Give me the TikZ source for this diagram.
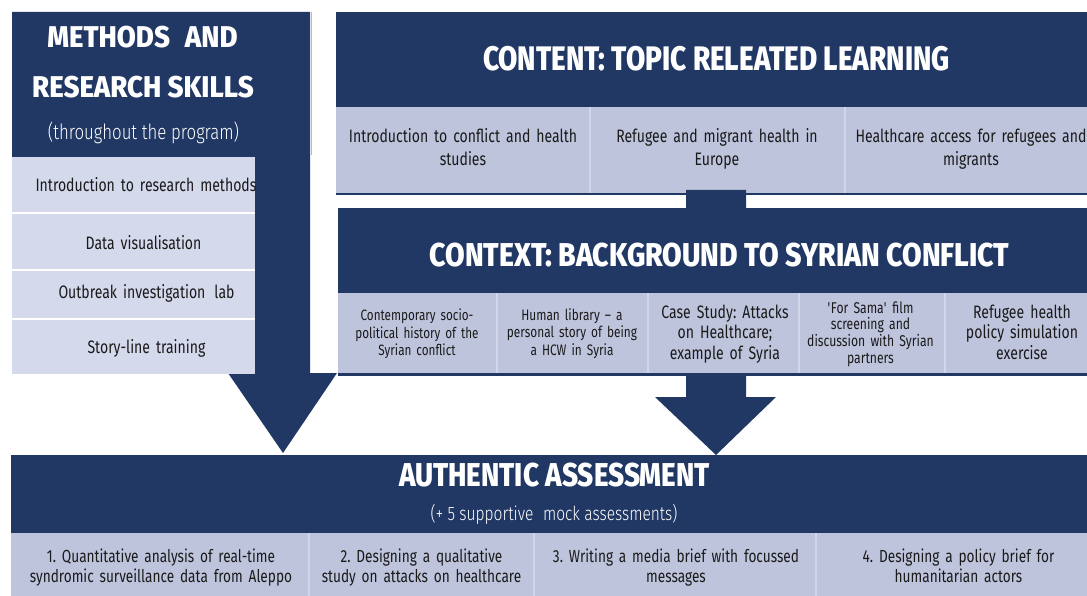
\documentclass[tikz,border=0pt]{standalone}
\usepackage{fontspec}
\setmainfont{Fira Sans}[FakeStretch=0.78]
\newfontfamily\ttlA{Fira Sans ExtraBold}[FakeStretch=0.822]
\newfontfamily\ttlB{Fira Sans ExtraBold}[FakeStretch=0.862]
\newfontfamily\ttlC{Fira Sans ExtraBold}[FakeStretch=0.842]
\newfontfamily\ttlD{Fira Sans ExtraBold}[FakeStretch=0.92]
\newfontfamily\lightfont{Fira Sans Light}[FakeStretch=0.8]
\definecolor{navy}{HTML}{213864}
\definecolor{paleL}{HTML}{D5D9EC}
\definecolor{paleR}{HTML}{BFC4DD}
\definecolor{divline}{HTML}{D3D6E8}
\definecolor{ink}{HTML}{1A1A1A}
\tikzset{
  ttl/.style 2 args={inner sep=0pt, anchor=base, text=white, font=#1\fontsize{#2}{#2}\selectfont},
  sub/.style={inner sep=0pt, anchor=base, text=white, font=\lightfont\fontsize{#1}{#1}\selectfont},
  it/.style={inner sep=0pt, anchor=base, text=ink, align=center, text width=320pt},
  fs/.style 2 args={font=\fontsize{#1}{#2}\selectfont},
  divider/.style={draw=divline, line width=1.5pt},
}
\begin{document}
\frenchspacing
\begin{tikzpicture}[x=1pt,y=-1pt]
\useasboundingbox[fill=white] (0,0) rectangle (1087,596);

% ---------- methods column + arrow
\fill[navy] (12,12) -- (310,12) -- (310,373) -- (337,373) -- (283,453) -- (228,373)
  -- (255,373) -- (255,157) -- (12,157) -- cycle;
\draw[color=gray!55, line width=0.8pt] (311,12) -- (311,155);
\fill[paleL] (12,157) rectangle (255,212);
\fill[paleL] (12,214) rectangle (255,269);
\fill[paleL] (12,271) rectangle (255,318);
\fill[paleL] (12,320) rectangle (255,374);
\node[ttl={\ttlD}{30}] (mt1) at (142.5,48) {METHODS\enspace AND};
\node[ttl={\ttlD}{30}] (mt2) at (143,98) {RESEARCH SKILLS};
\node[sub=21] (mt3) at (143.5,140) {(throughout the program)};
\node[it, fs={18}{22}] (l1) at (146,192) {Introduction to research methods};
\node[it, fs={18}{22}] (l2) at (143.5,250) {Data visualisation};
\node[it, fs={18}{22}] (l3) at (146.5,298) {Outbreak investigation\enspace lab};
\node[it, fs={18}{22}] (l4) at (146.5,353) {Story-line training};

% ---------- content block
\fill[navy] (336,12) rectangle (1087,107);
\fill[paleR] (336,107) rectangle (1087,193);
\fill[navy] (336,193) rectangle (1087,195.5);
\draw[divider] (590,107) -- (590,193);
\draw[divider] (845,107) -- (845,193);
\node[ttl={\ttlA}{34}] (ct) at (716.5,71) {CONTENT: TOPIC RELEATED LEARNING};
\node[it, fs={18}{23}] (c1) at (463,143) {Introduction to conflict and health\\studies};
\node[it, fs={18}{23}] (c2) at (717,143) {Refugee and migrant health in\\Europe};
\node[it, fs={18}{23}] (c3) at (971,143) {Healthcare access for refugees and\\migrants};

% ---------- central arrow
\fill[navy] (686,190) -- (746,190) -- (746,397) -- (776,397) -- (716,455) -- (655,397)
  -- (686,397) -- cycle;

% ---------- context block
\fill[navy] (338,208) rectangle (1087,293);
\fill[paleR] (338,293) rectangle (1087,373);
\fill[navy] (338,373) rectangle (1087,375.5);
\draw[divider] (497,293) -- (497,373);
\draw[divider] (648,293) -- (648,373);
\draw[divider] (799,293) -- (799,373);
\draw[divider] (945,293) -- (945,373);
\node[ttl={\ttlB}{33}] (xt) at (719.5,266) {CONTEXT: BACKGROUND TO SYRIAN CONFLICT};
\node[it, fs={15}{17.5}] (x1) at (417,320.5) {Contemporary socio-\\political history of the\\Syrian conflict};
\node[it, fs={15.2}{17.5}] (x2) at (572,320) {Human library – a\\personal story of being\\a HCW in Syria};
\node[it, fs={18}{20.5}] (x3) at (725,318) {Case Study: Attacks\\on Healthcare;\\example of Syria};
\node[it, fs={15.6}{16.7}] (x4) at (870.5,313) {\textquotesingle For Sama\textquotesingle\ film\\screening and\\discussion with Syrian\\partners};
\node[it, fs={18}{20.5}] (x5) at (1022,318) {Refugee health\\policy simulation\\exercise};

% ---------- authentic assessment
\fill[navy] (11,455) rectangle (1087,533);
\fill[paleR] (11,533) rectangle (1087,596);
\draw[divider] (309,533) -- (309,596);
\draw[divider] (534,533) -- (534,596);
\draw[divider] (816,533) -- (816,596);
\node[ttl={\ttlC}{33}] (at) at (554.5,486) {AUTHENTIC ASSESSMENT};
\node[sub=19.4] (as) at (554,520) {(+ 5 supportive\enspace mock assessments)};
\node[it, fs={17.5}{20}] (a1) at (161,562) {1. Quantitative analysis of real-time\\syndromic surveillance data from Aleppo};
\node[it, fs={17.5}{20}] (a2) at (421.5,562) {2. Designing a qualitative\\study on attacks on healthcare};
\node[it, fs={17.5}{20}] (a3) at (676,562) {3. Writing a media brief with focussed\\messages};
\node[it, fs={17.5}{20}] (a4) at (958.5,562) {4. Designing a policy brief for\\humanitarian actors};
\end{tikzpicture}
\end{document}
